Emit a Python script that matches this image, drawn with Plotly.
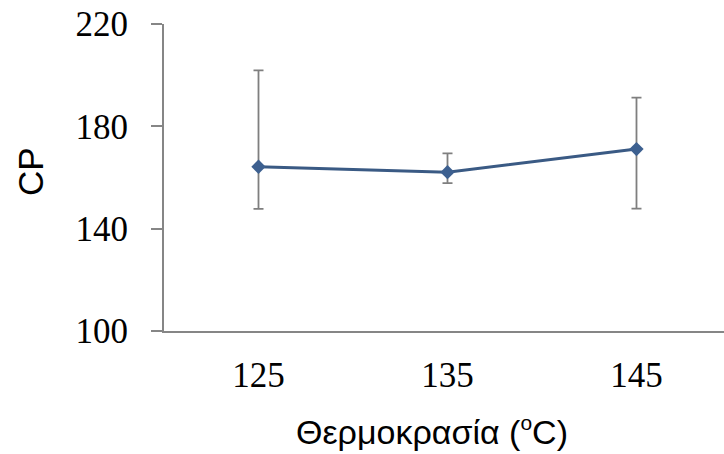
import plotly.graph_objects as go

categories = ["125", "135", "145"]
cp_values = [164.2, 162.1, 171.1]
err_plus = [37.7, 7.3, 20.1]
err_minus = [16.5, 4.3, 23.3]
y_ticks = [100, 140, 180, 220]

fig = go.Figure()
fig.add_trace(go.Scatter(
    x=categories, y=cp_values, mode="lines+markers",
    line=dict(color="#3a5a84", width=3),
    marker=dict(symbol="diamond", size=11, color="#3d6090"),
    error_y=dict(type="data", symmetric=False, array=err_plus, arrayminus=err_minus,
                 color="#7f7f7f", thickness=1.8, width=5),
    showlegend=False,
))

fig.update_layout(
    width=724, height=454,
    margin=dict(l=164, r=0, t=24, b=123),
    paper_bgcolor="white", plot_bgcolor="white",
    xaxis=dict(type="category", range=[-0.5, 2.463], showline=True, linecolor="#868686",
               linewidth=2, ticks="", showgrid=False, zeroline=False,
               tickfont=dict(family="Liberation Serif", size=35, color="black"),
               ticklabelstandoff=12),
    yaxis=dict(range=[100, 220], tickvals=y_ticks, showline=True, linecolor="#868686",
               linewidth=2, ticks="outside", ticklen=11, tickcolor="#868686", tickwidth=2,
               showgrid=False, zeroline=False,
               tickfont=dict(family="Liberation Serif", size=35, color="black"),
               ticklabelstandoff=16),
    annotations=[
        dict(text="Θερμοκρασία (<sup><span style='font-size:21px'>o</span></sup>C)",
             xref="paper", yref="paper",
             x=0.4786, y=-0.326, xanchor="center", yanchor="middle", showarrow=False,
             font=dict(family="Liberation Sans", size=34, color="black")),
        dict(text="CP", xref="paper", yref="paper", textangle=-90,
             x=-0.2375, y=0.518, xanchor="center", yanchor="middle", showarrow=False,
             font=dict(family="Liberation Sans", size=35, color="black")),
    ],
)

fig.write_html("out.html", config={"displayModeBar": False},
               post_script="document.body.style.margin='0';document.body.style.overflow='hidden';")
